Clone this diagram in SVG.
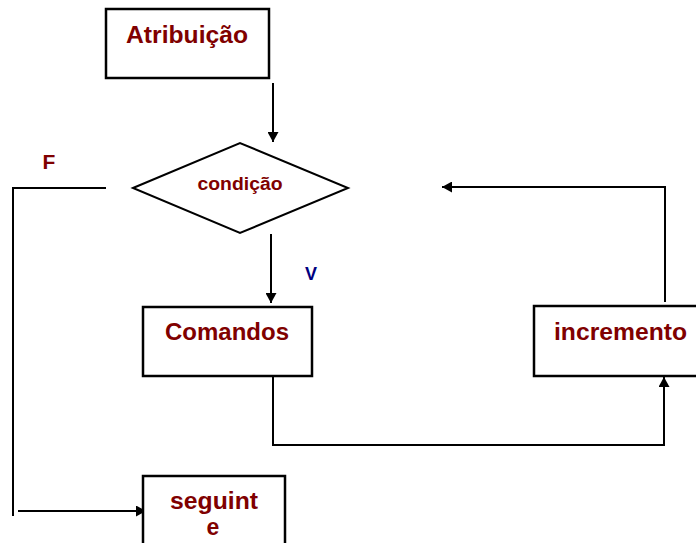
<svg xmlns="http://www.w3.org/2000/svg" width="696" height="543" viewBox="0 0 696 543">
<style>
.box{fill:#fff;stroke:#000;stroke-width:2.5}
.t{font-family:"Liberation Sans",Arial,sans-serif;font-weight:bold;fill:#800000;text-anchor:middle}
.c{fill:none;stroke:#000;stroke-width:2}
</style>
<defs>
<marker id="a" viewBox="0 0 10 10" refX="10" refY="5" markerWidth="10" markerHeight="11" orient="auto" markerUnits="userSpaceOnUse" preserveAspectRatio="none">
<path d="M0,0 L10,5 L0,10 z" fill="#000"/>
</marker>
</defs>
<rect width="696" height="543" fill="#fff"/>
<g id="connectors">
<path class="c" d="M273,83 V142" marker-end="url(#a)"/>
<path class="c" d="M271,234 V303" marker-end="url(#a)"/>
<path class="c" d="M106,188 H13 V516"/>
<path class="c" d="M18,511 H146" marker-end="url(#a)"/>
<path class="c" d="M273,377 V445 H664 V377" marker-end="url(#a)"/>
<path class="c" d="M665,302 V187 H442" marker-end="url(#a)"/>
</g>
<g id="atribuicao">
<rect class="box" x="106" y="9" width="163" height="69"/>
<text class="t" x="187" y="43" font-size="23" textLength="122" lengthAdjust="spacingAndGlyphs">Atribuição</text>
</g>
<g id="condicao">
<polygon points="133,188 240,143 348,188 240,233" fill="#fff" stroke="#000" stroke-width="2"/>
<text class="t" x="240" y="190" font-size="18" textLength="85" lengthAdjust="spacingAndGlyphs">condição</text>
</g>
<g id="labelF">
<text class="t" x="49" y="169" font-size="21">F</text>
</g>
<g id="labelV">
<text class="t" x="311" y="280" font-size="18" style="fill:#000080">V</text>
</g>
<g id="comandos">
<rect class="box" x="143" y="307" width="169" height="69"/>
<text class="t" x="227" y="340" font-size="23" textLength="124" lengthAdjust="spacingAndGlyphs">Comandos</text>
</g>
<g id="incremento">
<rect class="box" x="534" y="306" width="170" height="70"/>
<text class="t" x="620.5" y="340" font-size="23" textLength="133" lengthAdjust="spacingAndGlyphs">incremento</text>
</g>
<g id="seguinte">
<rect class="box" x="143" y="476" width="142" height="80"/>
<text class="t" x="214" y="509" font-size="23" textLength="88" lengthAdjust="spacingAndGlyphs">seguint</text>
<text class="t" x="213" y="535" font-size="23">e</text>
</g>
</svg>
